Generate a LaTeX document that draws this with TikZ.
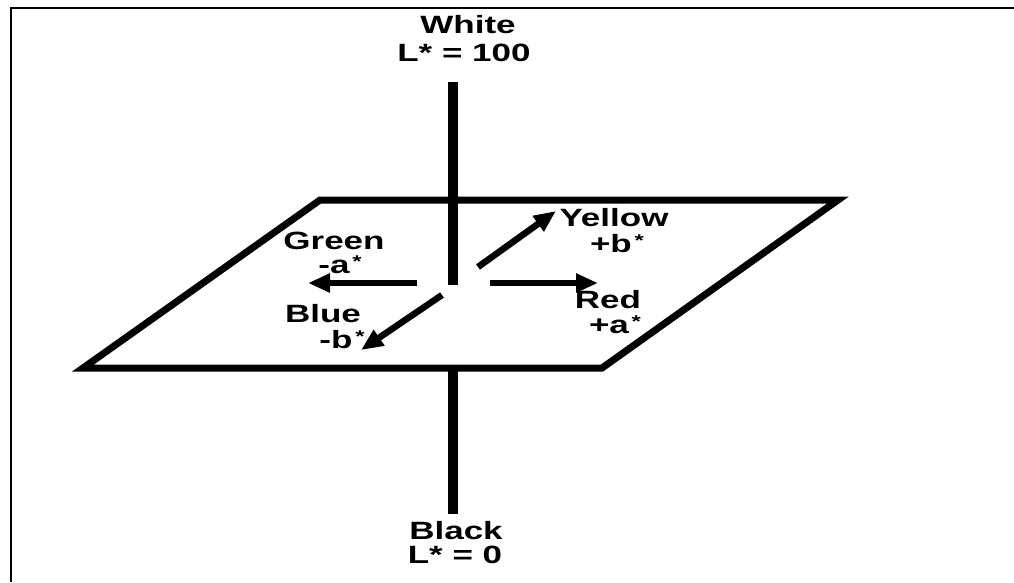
\documentclass[tikz,border=0pt]{standalone}
\usepackage{fontspec}
\newfontfamily\labfont[FakeStretch=1.4]{Liberation Sans}
\usetikzlibrary{arrows.meta}
% small raised star used on the a*/b* labels
\newcommand{\supstar}{\raisebox{6pt}{\fontsize{17}{17}\selectfont\,*}}
\begin{document}
\begin{tikzpicture}[x=1pt,y=-1pt,
  lab/.style={font=\labfont\bfseries\fontsize{25}{27}\selectfont,anchor=base,inner sep=0pt},
  axis/.style={line width=9.5pt},
  plane/.style={line width=7pt,line join=miter},
  dir/.style={line width=6.5pt,-{Triangle[length=22pt,width=18pt]}},
  frameline/.style={line width=2.5pt}]
\useasboundingbox (0,0) rectangle (1014,582);

% frame edges
\coordinate (f1) at (11,8);
\coordinate (f2) at (1014,8);
\coordinate (f3) at (11,582);
\draw[frameline] (f3) -- (f1) -- (f2);

% a*b* plane
\coordinate (p1) at (320,200);
\coordinate (p2) at (838,200);
\coordinate (p3) at (602,368);
\coordinate (p4) at (83,368);
\draw[plane] (p1) -- (p2) -- (p3) -- (p4) -- cycle;

% L* axis
\coordinate (lt) at (453,82);
\coordinate (lm) at (453,285);
\coordinate (lb1) at (453,368);
\coordinate (lb2) at (453,514);
\draw[axis] (lt) -- (lm);
\draw[axis] (lb1) -- (lb2);

% colour directions
\coordinate (g0) at (417,283);
\coordinate (g1) at (308,283);
\coordinate (r0) at (490,283);
\coordinate (r1) at (598,283);
\coordinate (y0) at (478,267);
\coordinate (y1) at (556,211);
\coordinate (b0) at (442,295);
\coordinate (b1) at (361,350);
\draw[dir] (g0) -- (g1);
\draw[dir] (r0) -- (r1);
\draw[dir] (y0) -- (y1);
\draw[dir] (b0) -- (b1);

% labels
\node[lab] (white) at (468,33) {White};
\node[lab] (white2) at (464,61) {L* = 100};
\node[lab] (black) at (456,539) {Black};
\node[lab] (black2) at (455,563) {L* = 0};
\node[lab] (green) at (334,249) {Green};
\node[lab] (green2) at (340,273) {-a\supstar};
\node[lab] (yellow) at (614,226) {Yellow};
\node[lab] (yellow2) at (617,252) {+b\supstar};
\node[lab] (red) at (608,308) {Red};
\node[lab] (red2) at (615,333) {+a\supstar};
\node[lab] (blue) at (323,322) {Blue};
\node[lab] (blue2) at (342,348) {-b\supstar};
\end{tikzpicture}
\end{document}
